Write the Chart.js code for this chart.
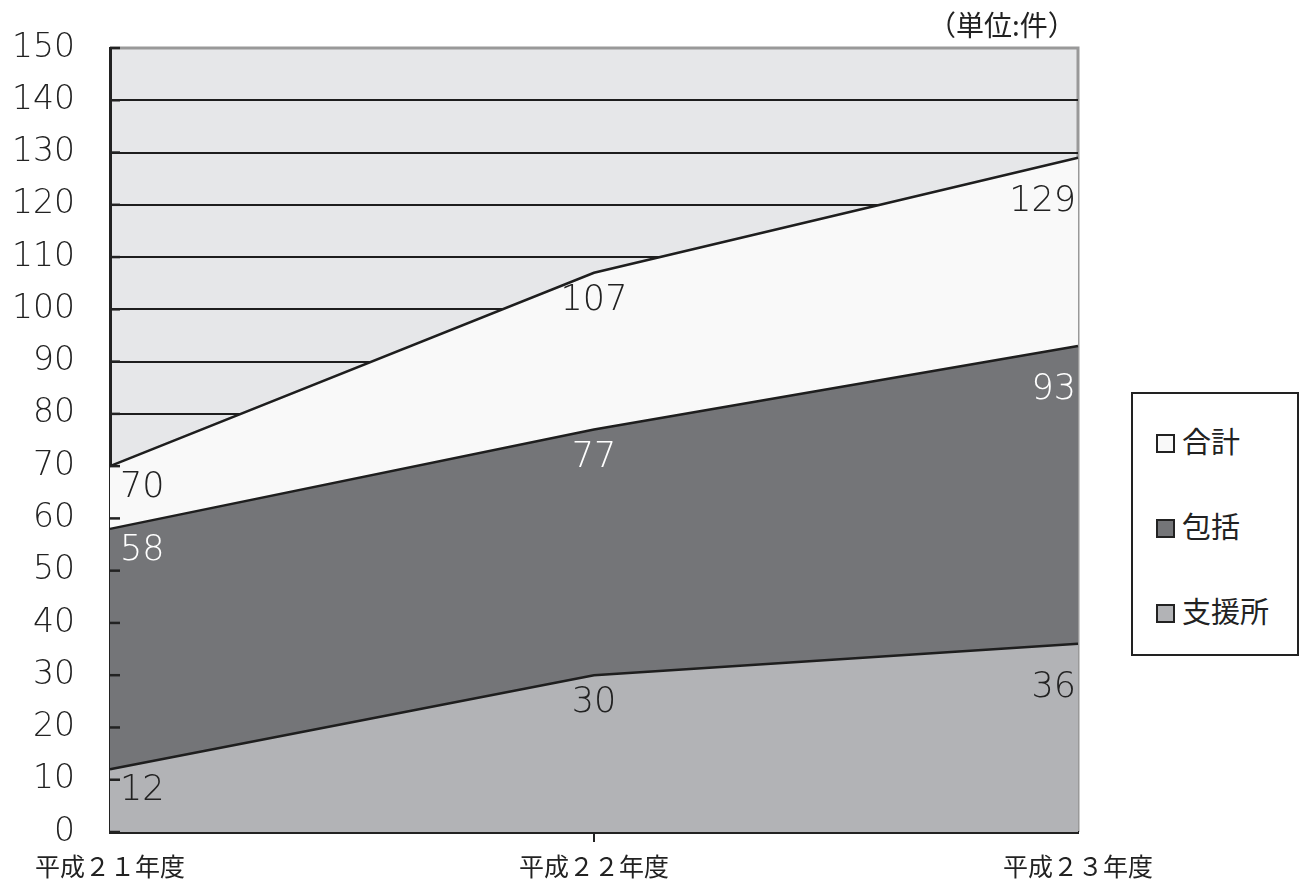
<!DOCTYPE html>
<html>
<head>
<meta charset="utf-8">
<script src="https://cdn.jsdelivr.net/npm/chart.js@4"></script>
<style>
    html, body { margin: 0; padding: 0; background: #ffffff; }
    #wrap { position: relative; width: 1301px; height: 886px; }
    #unit {
        position: absolute; left: 928px; top: 4px;
        font: 28px "Noto Sans CJK JP", sans-serif; color: #222;
    }
    #legend {
        position: absolute; left: 1131px; top: 392px;
        width: 164px; height: 260px;
        border: 2px solid #222; background: #fff;
        font: 29px "Noto Sans CJK JP", sans-serif; color: #222;
    }
    .item { position: absolute; left: 23px; height: 36px; line-height: 36px; }
    .item span {
        display: inline-block; width: 15px; height: 15px;
        border: 2px solid #222; margin-right: 7px; vertical-align: 0px;
    }
</style>
</head>
<body>
<div id="wrap">
    <canvas id="chart" width="1301" height="886"></canvas>
    <div id="unit">（単位:件）</div>
    <div id="legend"></div>
</div>
<script>
const years = ['平成２１年度', '平成２２年度', '平成２３年度'];
const total = [70, 107, 129];      // 合計
const houkatsu = [58, 77, 93];     // 包括
const shienjo = [12, 30, 36];      // 支援所
const yTicks = [0, 10, 20, 30, 40, 50, 60, 70, 80, 90, 100, 110, 120, 130, 140, 150];

const series = [
    { label: '合計', data: total, fill: '#f9f9f9', text: '#222222', order: 3 },
    { label: '包括', data: houkatsu, fill: '#747578', text: '#ffffff', order: 2 },
    { label: '支援所', data: shienjo, fill: '#b2b3b6', text: '#222222', order: 1 }
];

// legend (html)
const legendEl = document.getElementById('legend');
series.forEach((s, i) => {
    const div = document.createElement('div');
    div.className = 'item';
    div.style.top = (28 + i * 85) + 'px';
    div.innerHTML = '<span style="background:' + s.fill + '"></span>' + s.label;
    legendEl.appendChild(div);
});

const plotBg = {
    id: 'plotBg',
    beforeDraw(chart) {
        const { ctx, chartArea: a } = chart;
        ctx.save();
        ctx.fillStyle = '#e6e7e9';
        ctx.fillRect(a.left, a.top, a.right - a.left, a.bottom - a.top);
        ctx.strokeStyle = '#999999';
        ctx.lineWidth = 3;
        ctx.beginPath();
        ctx.moveTo(a.left, a.top);
        ctx.lineTo(a.right, a.top);
        ctx.lineTo(a.right, a.bottom);
        ctx.stroke();
        ctx.restore();
    }
};

// small tick marks inside the plot on the y axis + value labels
const overlay = {
    id: 'overlay',
    afterDatasetsDraw(chart) {
        const { ctx, chartArea: a } = chart;
        const y = chart.scales.y;
        ctx.save();
        ctx.strokeStyle = '#222';
        ctx.lineWidth = 2.5;
        yTicks.forEach(v => {
            const py = y.getPixelForValue(v);
            ctx.beginPath();
            ctx.moveTo(a.left, py);
            ctx.lineTo(a.left + 10, py);
            ctx.stroke();
        });

        const offsets = [22, 28, 44];
        ctx.font = '300 35px "DejaVu Sans", sans-serif';
        ctx.textBaseline = 'middle';
        chart.data.datasets.forEach((ds, di) => {
            const meta = chart.getDatasetMeta(di);
            meta.data.forEach((pt, i) => {
                let x = pt.x;
                if (i === 0) { ctx.textAlign = 'left'; x = pt.x + 10; }
                else if (i === ds.data.length - 1) { ctx.textAlign = 'right'; x = pt.x - 2; }
                else { ctx.textAlign = 'center'; }
                ctx.fillStyle = series[di].text;
                ctx.fillText(String(ds.data[i]), x, pt.y + offsets[i]);
            });
        });
        ctx.restore();
    }
};

new Chart(document.getElementById('chart'), {
    type: 'line',
    data: {
        labels: years,
        datasets: series.map(s => ({
            label: s.label,
            data: s.data,
            order: s.order,
            fill: 'origin',
            backgroundColor: s.fill,
            borderColor: '#1e1e1e',
            borderWidth: 2.5,
            pointRadius: 0,
            tension: 0
        }))
    },
    options: {
        responsive: false,
        animation: false,
        layout: { padding: { left: 0, right: 223, top: 48, bottom: 0 } },
        plugins: {
            legend: { display: false },
            tooltip: { enabled: false }
        },
        scales: {
            x: {
                offset: false,
                afterFit: (scale) => { scale.height = 54; },
                grid: {
                    drawOnChartArea: false,
                    drawTicks: true,
                    tickLength: 10,
                    color: (c) => c.index === 1 ? '#222' : 'rgba(0,0,0,0)',
                    lineWidth: 2
                },
                border: { color: '#222', width: 3 },
                ticks: {
                    color: '#222',
                    padding: 9,
                    maxRotation: 0,
                    autoSkip: false,
                    font: { family: '"Noto Sans CJK JP", sans-serif', size: 25 }
                }
            },
            y: {
                min: 0,
                max: 150,
                afterFit: (scale) => {
                    scale.width = 110;
                    scale.paddingTop = 0;
                    scale.paddingBottom = 0;
                },
                afterBuildTicks: (scale) => { scale.ticks = yTicks.map(v => ({ value: v })); },
                grid: {
                    drawTicks: false,
                    color: (c) => c.tick && c.tick.value === 150 ? 'rgba(0,0,0,0)' : '#1e1e1e',
                    lineWidth: 2
                },
                border: { color: '#222', width: 3 },
                ticks: {
                    color: '#222',
                    padding: 35,
                    font: { family: '"DejaVu Sans", sans-serif', size: 33, weight: '300' }
                }
            }
        }
    },
    plugins: [plotBg, overlay]
});
</script>
</body>
</html>
